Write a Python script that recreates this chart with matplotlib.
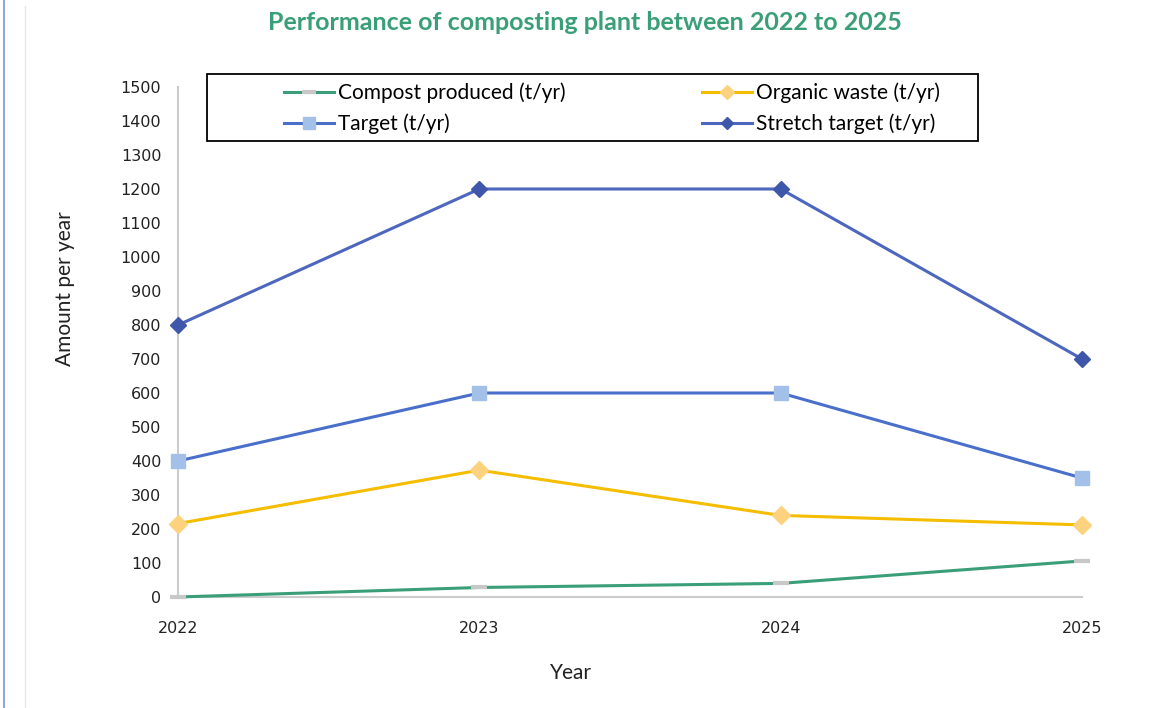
import matplotlib.pyplot as plt
from matplotlib.lines import Line2D
from matplotlib.patches import Rectangle

years = ['2022', '2023', '2024', '2025']
compost = [0, 28, 40, 106]
organic = [216, 373, 240, 212]
target = [400, 600, 600, 350]
stretch = [800, 1200, 1200, 700]

W, H = 1173, 708
fig = plt.figure(figsize=(W / 100, H / 100), dpi=100)
ax = fig.add_axes([178 / W, 1 - 597 / H, (1082 - 178) / W, 510 / H])

x = range(len(years))
l1, = ax.plot(x, compost, color='#3a9f78', lw=2.2, marker='_', ms=12, mew=3,
              mec='#c8c8c8', label='Compost produced (t/yr)', clip_on=False, zorder=3)
l2, = ax.plot(x, organic, color='#f5bd00', lw=2.2, marker='D', ms=9,
              mfc='#fcd27e', mec='#fcd27e', label='Organic waste (t/yr)', clip_on=False, zorder=3)
l3, = ax.plot(x, target, color='#4a6fcb', lw=2.2, marker='s', ms=10,
              mfc='#a3c0e9', mec='#a3c0e9', label='Target (t/yr)', clip_on=False, zorder=3)
l4, = ax.plot(x, stretch, color='#4c67bd', lw=2.2, marker='D', ms=8,
              mfc='#3f57aa', mec='#3f57aa', label='Stretch target (t/yr)', clip_on=False, zorder=3)

ax.set_xlim(0, 3)
ax.set_ylim(0, 1500)
ax.set_xticks(list(x))
ax.set_xticklabels(years)
ax.set_yticks(range(0, 1501, 100))
ax.tick_params(axis='both', labelsize=11.5, colors='#222222', length=0)
ax.tick_params(axis='x', pad=17)
ax.tick_params(axis='y', pad=12)
for s in ['top', 'right']:
    ax.spines[s].set_visible(False)
for s in ['left', 'bottom']:
    ax.spines[s].set_color('#cccccc')
    ax.spines[s].set_linewidth(1.5)

ax.set_xlabel('Year', family='Lato', fontsize=15, color='#222222')
ax.xaxis.set_label_coords((571 - 178) / 904, (597 - 673) / 510)
ax.xaxis.label.set_va('center')
ax.set_ylabel('Amount per year', family='Lato', fontsize=15, color='#222222')
ax.yaxis.set_label_coords((65 - 178) / 904, (597 - 289) / 510)
ax.yaxis.label.set_va('center')

fig.text(585 / W, 1 - 22 / H, 'Performance of composting plant between 2022 to 2025',
         family='Lato', fontweight='bold', fontsize=18, color='#3a9f78',
         ha='center', va='center')

# legend box drawn separately so the frame matches the reference
fig.add_artist(Rectangle((207 / W, 1 - 141 / H), (978 - 207) / W, 67 / H,
                         transform=fig.transFigure, fill=False,
                         edgecolor='black', lw=1.3, zorder=5))
leg = ax.legend([l1, l3, l2, l4], [l1.get_label(), l3.get_label(), l2.get_label(), l4.get_label()],
                loc='center', bbox_to_anchor=(612 / W, 1 - 108 / H),
                bbox_transform=fig.transFigure, ncol=2, frameon=False,
                prop={'family': 'Lato', 'size': 15}, handlelength=2.4,
                handletextpad=0.2, borderpad=0.0, labelspacing=0.5,
                columnspacing=6.5, markerscale=0.8)

# page borders from the screenshot
fig.add_artist(Line2D([4 / W, 4 / W], [0, 1], color='#8fa8e0', lw=1.5))
fig.add_artist(Line2D([25 / W, 25 / W], [0, 1 - 6 / H], color='#e6e6e6', lw=1))

fig.savefig('out.png', dpi=100)
